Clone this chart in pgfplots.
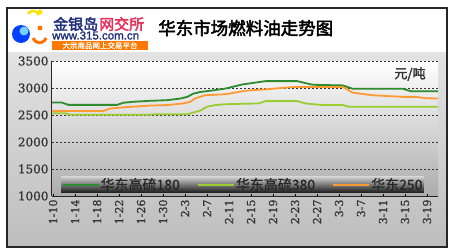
\documentclass[border=0pt]{standalone}
\usepackage{fontspec}
\usepackage{pgfplots}
\pgfplotsset{compat=1.18}
\usetikzlibrary{backgrounds}
\setmainfont{DejaVu Serif}
\newfontfamily\cjk{Noto Sans CJK SC}[FakeBold=0.8]
\newfontfamily\cjkb{Noto Sans CJK SC}[FakeBold=2.5]
\newfontfamily\numf{DejaVu Serif}[FakeBold=0.8]
\newfontfamily\sansb{Liberation Sans}[FakeBold=1.5]
\definecolor{dg}{HTML}{2E8B2E}
\definecolor{lg}{HTML}{9ACD32}
\definecolor{orl}{HTML}{FF9A33}
\definecolor{navy}{HTML}{1F2F7A}
\definecolor{logored}{HTML}{E8305A}
\begin{document}
\begin{tikzpicture}
\begin{axis}[
  name=ax, scale only axis,
  width=386pt, height=135pt,
  xmin=-0.05, xmax=17.5, ymin=1000, ymax=3500,
  ytick={1000,1500,2000,2500,3000,3500},
  xtick={0,...,17},
  xticklabels={1-10,1-14,1-18,1-22,1-26,1-30,2-3,2-7,2-11,2-15,2-19,2-23,2-27,3-3,3-7,3-11,3-15,3-19},
  x tick label style={rotate=90, anchor=east, font=\numf\fontsize{11}{11}\selectfont, text=black!80},
  y tick label style={font=\numf\fontsize{12}{12}\selectfont, text=black!80},
  scaled y ticks=false,
  yticklabel={\pgfmathprintnumber[fixed,1000 sep={}]{\tick}},
  /pgf/number format/assume math mode=true,
  axis x line*=bottom, axis y line*=left,
  axis line style={-, gray!30!black, line width=1pt},
  ymajorgrids, grid style={gray!40!black, line width=0.8pt, dash pattern=on 2pt off 2pt},
  ytick style={draw=none},
  xtick style={black, line width=0.6pt},
  major tick length=2.5pt, tick align=inside,
  axis background/.style={top color=white, middle color=gray!12, bottom color=gray!65},
  legend columns=3,
  legend style={at={(0.4935,0.022)}, anchor=south, draw=none,
    top color=gray!35, middle color=gray!55, bottom color=black!90,
    font=\cjk\fontsize{14}{14}\selectfont, text=black!85,
    inner sep=0.5pt, nodes={inner sep=1pt},
    /tikz/every even column/.append style={column sep=16pt}},
  legend image code/.code={\draw[#1, line width=2pt] (0pt,0pt) -- (36pt,0pt);},
]
\coordinate (O) at (rel axis cs:0,0);
\addplot[dg, line width=1.8pt] coordinates {(-0.05,2733)(0.4,2730)(0.7,2688)(2.92,2688)(3.19,2727)(3.64,2745)(4.42,2763)(5.19,2775)(5.79,2805)(6.1,2836)(6.38,2896)(6.7,2927)(7.29,2957)(7.84,2990)(8.61,3066)(9.66,3127)(11.1,3127)(11.8,3060)(13.17,3048)(13.62,2987)(15.9,2987)(16.26,2940)(17.5,2938)};
\addlegendentry{华东高硫180}
\addplot[lg, line width=1.8pt] coordinates {(-0.05,2533)(0.55,2533)(0.77,2503)(4.42,2503)(4.6,2515)(6.1,2515)(6.24,2530)(6.7,2582)(7.0,2654)(7.38,2684)(7.84,2700)(9.34,2714)(9.66,2757)(11.1,2757)(11.48,2714)(12.26,2684)(13.17,2684)(13.44,2654)(17.5,2654)};
\addlegendentry{华东高硫380}
\addplot[orl, line width=1.8pt] coordinates {(-0.05,2575)(2.28,2575)(2.6,2620)(3.28,2645)(4.42,2675)(5.19,2684)(5.92,2715)(6.24,2745)(6.47,2810)(6.92,2866)(7.84,2885)(8.75,2950)(9.66,2975)(10.9,3018)(13.17,3020)(13.62,2914)(14.53,2866)(15.9,2836)(16.5,2836)(16.95,2810)(17.5,2805)};
\addlegendentry{华东250}
\end{axis}
\begin{scope}[shift={(O)}, xshift=-52pt, yshift=-54pt, x=1pt, y=1pt]
\begin{pgfonlayer}{background}
\fill[white] (0,0) rectangle (450,250);
\shade[top color=gray!22, bottom color=gray!52] (7,3) rectangle (447,198);
\fill[white] (7,198) rectangle (447,242);
\draw[gray!30!black, line width=1.2pt] (7,3) rectangle (447,242);
\end{pgfonlayer}
% logo
\fill[blue!75!cyan] (21,216) circle (9);
\fill[cyan!55] (24,219) circle (4.5);
\draw[yellow!85!orange, line width=2.5pt] (28,236) arc (150:20:6);
\fill[yellow!85!orange] (40,238) circle (2.5);
\draw[orange!90!red, line width=3pt] (33,212) arc (200:340:7);
\fill[orange!90!red] (40,222) circle (2.5);
\node[anchor=west, inner sep=0pt, font=\cjkb\fontsize{15}{15}\selectfont, text=navy] at (53,226) {金银岛};
\node[anchor=west, inner sep=0pt, font=\cjkb\fontsize{15}{15}\selectfont, text=logored] at (99,226) {网交所};
\node[anchor=west, inner sep=0pt, font=\sansb\fontsize{11.5}{11.5}\selectfont, text=navy] at (52,214.5) {www.315.com.cn};
\fill[orange!95!red] (52,200) rectangle (148,209);
\node[inner sep=0pt, font=\cjk\fontsize{7.5}{7.5}\selectfont, text=white] at (100,204.5) {大宗商品网上交易平台};
% title
\node[anchor=west, inner sep=0pt, font=\cjkb\fontsize{17.5}{17.5}\selectfont] at (158,222) {华东市场燃料油走势图};
\node[inner sep=0pt, font=\cjkb\fontsize{13}{13}\selectfont, text=black!80] at (410,176) {元/吨};
\pgfresetboundingbox
\path[use as bounding box] (0,0) rectangle (450,250);
\end{scope}
\end{tikzpicture}
\end{document}
